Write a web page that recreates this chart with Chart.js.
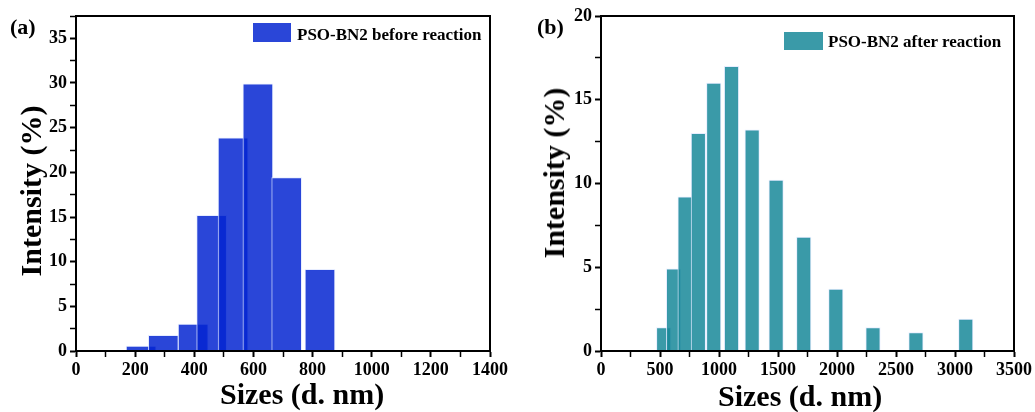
<!DOCTYPE html>
<html>
<head>
<meta charset="utf-8">
<script src="https://cdn.jsdelivr.net/npm/chart.js@4.4.0/dist/chart.umd.min.js"></script>
<style>
  body { margin: 0; background: #fff; width: 1035px; height: 412px; overflow: hidden; position: relative;
         font-family: "Liberation Serif", "Times New Roman", serif; font-weight: bold; color: #000; }
  canvas { position: absolute; top: 0; }
  #ca { left: 0; }
  #cb { left: 520px; }
  .lbl { position: absolute; white-space: nowrap; line-height: 1; }
  .ytitle { transform: translate(-50%, -50%) rotate(-90deg); }
  .swatch { position: absolute; }
</style>
</head>
<body>
<canvas id="ca" width="515" height="412"></canvas>
<canvas id="cb" width="515" height="412"></canvas>

<div class="lbl" style="left:10px; top:16px; font-size:22px">(a)</div>
<div class="lbl" style="left:537px; top:16px; font-size:22px">(b)</div>

<div class="swatch" id="swa" style="left:253px; top:23px; width:38px; height:19px"></div>
<div class="lbl" style="left:297px; top:26px; font-size:17px">PSO-BN2 before reaction</div>
<div class="swatch" id="swb" style="left:784px; top:32px; width:39px; height:18px"></div>
<div class="lbl" style="left:828px; top:33px; font-size:17px">PSO-BN2 after reaction</div>

<div class="lbl" style="left:220px; top:379px; font-size:30px">Sizes (d. nm)</div>
<div class="lbl" style="left:718px; top:381px; font-size:30px">Sizes (d. nm)</div>
<div class="lbl ytitle" style="left:31px; top:191px; font-size:30px">Intensity (%)</div>
<div class="lbl ytitle" style="left:554px; top:173px; font-size:30px">Intensity (%)</div>

<script>
// (a) before reaction
const sizesA = [220.2, 295.3, 396.1, 458.7, 531.2, 615.1, 712.4, 825.0];
const intensA = [0.55, 1.75, 3.0, 15.2, 23.85, 29.9, 19.4, 9.15];
// (b) after reaction
const sizesB = [531.2, 615.1, 712.4, 825.0, 955.4, 1106, 1281, 1484, 1718, 1990, 2305, 2669, 3091];
const intensB = [1.4, 4.9, 9.2, 13.0, 16.0, 17.0, 13.2, 10.2, 6.8, 3.7, 1.4, 1.1, 1.9];

const blue = 'rgba(5, 38, 209, 0.85)';
const teal = 'rgba(24, 136, 153, 0.85)';
document.getElementById('swa').style.background = blue;
document.getElementById('swb').style.background = teal;

const tickFont = { family: 'Liberation Serif', weight: 'bold', size: 18 };

const frame = {
  id: 'frame',
  afterDraw(chart) {
    const { ctx, chartArea: a } = chart;
    ctx.save();
    ctx.strokeStyle = '#000';
    ctx.lineWidth = 2;
    ctx.strokeRect(a.left, a.top, a.right - a.left, a.bottom - a.top);
    ctx.restore();
  }
};

function makeChart(id, sizes, vals, color, xMax, xStep, xLabelStep, yMax, yWidth, padRight, barPx) {
  return new Chart(document.getElementById(id), {
    type: 'bar',
    data: {
      datasets: [{
        data: sizes.map((s, i) => ({ x: s, y: vals[i] })),
        backgroundColor: color,
        borderColor: 'rgba(225, 232, 255, 0.8)',
        borderWidth: 1,
        barThickness: barPx
      }]
    },
    options: {
      responsive: false,
      animation: false,
      layout: { padding: { top: 16, right: padRight, left: 0, bottom: 0 } },
      plugins: { legend: { display: false }, tooltip: { enabled: false } },
      scales: {
        x: {
          type: 'linear',
          min: 0, max: xMax,
          offset: false,
          afterFit: s => { s.height = 61; },
          border: { color: '#000', width: 2 },
          grid: {
            offset: false, drawOnChartArea: false, tickLength: 6, tickColor: '#000',
            tickWidth: c => (c.tick && c.tick.value % xLabelStep === 0 ? 2 : 1.5)
          },
          ticks: {
            stepSize: xStep, autoSkip: false, maxRotation: 0, color: '#000', font: tickFont, padding: 3,
            callback: v => (v % xLabelStep === 0 ? v : '')
          }
        },
        y: {
          min: 0, max: yMax,
          afterFit: s => { s.width = yWidth; },
          border: { color: '#000', width: 2 },
          grid: {
            drawOnChartArea: false, tickLength: 6, tickColor: '#000',
            tickWidth: c => (c.tick && Math.abs(c.tick.value % 5) < 1e-6 ? 2 : 1.5)
          },
          ticks: {
            stepSize: 2.5, autoSkip: false, color: '#000', font: tickFont, padding: 3,
            callback: v => (Math.abs(v % 5) < 1e-6 ? v : '')
          }
        }
      }
    },
    plugins: [frame]
  });
}

makeChart('ca', sizesA, intensA, blue, 1400, 100, 200, 37.5, 76, 25, 30);
makeChart('cb', sizesB, intensB, teal, 3500, 250, 500, 20, 81, 19, 14.5);
</script>
</body>
</html>
